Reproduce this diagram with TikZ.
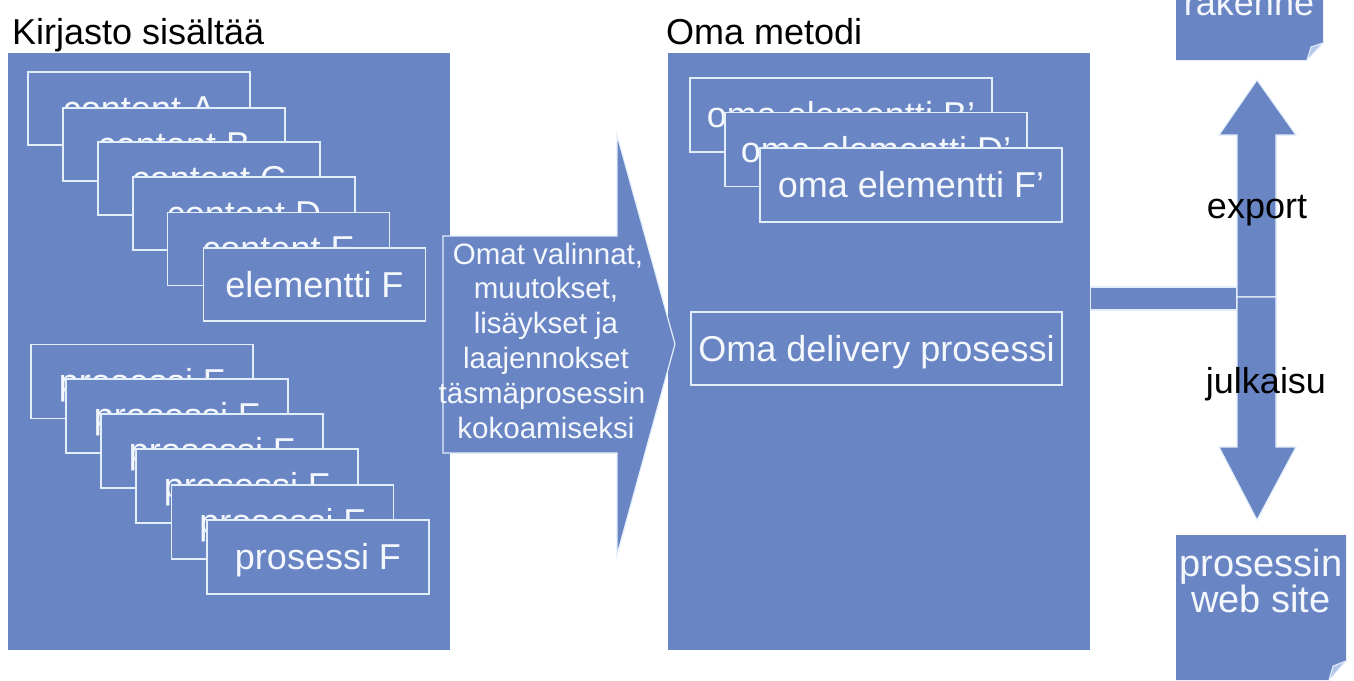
\documentclass[tikz,border=0pt]{standalone}
\usepackage{fontspec}
\setmainfont{Liberation Sans}
\usetikzlibrary{calc}
\definecolor{bfill}{HTML}{6985C4}
\definecolor{edge}{HTML}{E2EEF9}
\definecolor{txt}{HTML}{F4F8FD}
\definecolor{flap}{HTML}{B4C6EA}
\begin{document}
\begin{tikzpicture}[x=1pt,y=-1pt,
  panel/.style={fill=bfill, draw=none, inner sep=0pt},
  card/.style={fill=bfill, draw=edge, line width=1.4pt, inner sep=0pt, text=txt,
    font=\fontsize{36}{40}\selectfont, text height=32.6pt, text depth=7.6pt},
  lbl/.style={inner sep=0pt, font=\fontsize{36}{40}\selectfont, anchor=base},
  alab/.style={inner sep=0pt, text=txt, font=\fontsize{29.5}{34}\selectfont, anchor=base},
  blk/.style={fill=bfill, draw=edge, line width=1.2pt, line join=miter},
]
\useasboundingbox (0,0) rectangle (1354,680);
\clip (0,0) rectangle (1354,680);
\fill[white] (0,0) rectangle (1354,680);

% titles
\node[lbl, anchor=base west] (t1) at (12,44) {Kirjasto sisältää};
\node[lbl, anchor=base west] (t2) at (666,44) {Oma metodi};

% panels
\node[panel, minimum width=442pt, minimum height=597pt] (lib) at (229,351.5) {};
\node[panel, minimum width=422pt, minimum height=597pt] (meth) at (879,351.5) {};

% library content cards
\foreach \n/\x/\y/\t in {cA/139/108.5/content A, cB/174/144.5/content B, cC/209/178.5/content C,
  cD/244/213.5/content D, cE/278.5/249/content E, cF/314.5/284.5/elementti F}{
  \node[card, minimum width=222pt, minimum height=73pt] (\n) at (\x,\y) {\t};
}
% library processes
\foreach \n/\x/\y in {p1/142/381.5, p2/177/416, p3/212/451, p4/247/486, p5/282.5/522, p6/318/557}{
  \node[card, minimum width=222pt, minimum height=74pt] (\n) at (\x,\y) {prosessi F};
}

% own method cards
\node[card, minimum width=302pt, minimum height=74pt] (oB) at (841,115) {oma elementti B'};
\node[card, minimum width=302pt, minimum height=74pt] (oD) at (876,149.5) {oma elementti D'};
\node[card, minimum width=302pt, minimum height=74pt] (oF) at (911,185) {oma elementti F'};
\node[card, minimum width=371pt, minimum height=73pt] (del) at (876.5,348.5) {Oma delivery prosessi};

% middle block arrow
\path[blk] (443,236) -- (617,236) -- (617,135) -- (675,344) -- (617,555) -- (617,453) -- (443,453) -- cycle;
\node[alab] (a1) at (548,264) {Omat valinnat,};
\node[alab] (a2) at (546,298.5) {muutokset,};
\node[alab] (a3) at (546,333) {lisäykset ja};
\node[alab] (a4) at (546,368) {laajennokset};
\node[alab] (a5) at (542,403) {täsmäprosessin};
\node[alab] (a6) at (546,438) {kokoamiseksi};

% right connectors
\coordinate (junc) at (1257,297);
\coordinate (bt) at (1237,287);
\path[blk] (meth.east |- bt) rectangle (1237,310);
\path[blk] (1237,297) -- (1237,135) -- (1219,135) -- (1257,80) -- (1296,135) -- (1276,135) -- (1276,297) -- cycle;
\path[blk] (1237,297) -- (1237,447) -- (1219,447) -- (1257,520) -- (1296,447) -- (1276,447) -- (1276,297) -- cycle;

% documents
\fill[bfill] (1176,-20) -- (1323,-20) -- (1323,43) -- (1307,60) -- (1176,60) -- cycle;
\filldraw[fill=flap, draw=edge, line width=1pt] (1307,60) -- (1323,43) -- (1311,47) -- cycle;
\node[lbl, text=txt] (rak) at (1249,16) {rakenne};

\fill[bfill] (1176,535) -- (1346,535) -- (1346,661) -- (1329,680) -- (1176,680) -- cycle;
\filldraw[fill=flap, draw=edge, line width=1pt] (1329,680) -- (1346,661) -- (1333,666) -- cycle;
\node[lbl, text=txt, font=\fontsize{38}{42}\selectfont] (web1) at (1261,576) {prosessin};
\node[lbl, text=txt, font=\fontsize{38}{42}\selectfont] (web2) at (1261,612) {web site};

% arrow labels
\node[lbl] (exp) at (1257,218) {export};
\node[lbl] (jul) at (1266,393) {julkaisu};
\end{tikzpicture}
\end{document}
